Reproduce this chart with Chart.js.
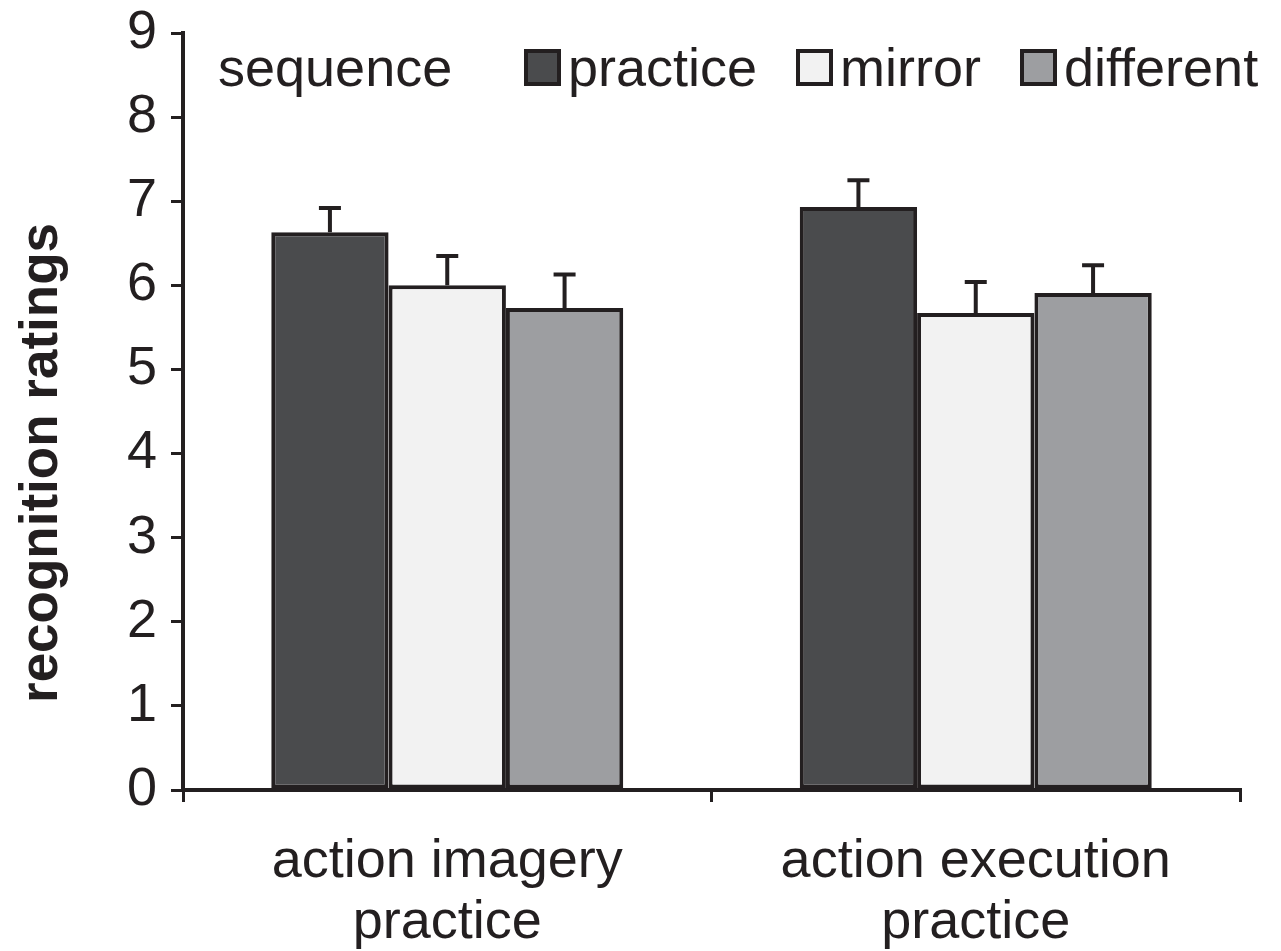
<!DOCTYPE html>
<html>
<head>
<meta charset="utf-8">
<script src="https://cdn.jsdelivr.net/npm/chart.js@4/dist/chart.umd.min.js"></script>
<style>
  html, body { margin: 0; padding: 0; background: #fff; }
  #wrap { width: 1281px; height: 951px; position: relative; }
</style>
</head>
<body>
<div id="wrap"><canvas id="c"></canvas></div>
<script>
// Данные
const categories = [['action imagery', 'practice'], ['action execution', 'practice']];
const seriesNames = ['practice', 'mirror', 'different'];
const practiceVals = [6.63, 6.93];
const mirrorVals = [6.00, 5.67];
const differentVals = [5.73, 5.91];
const practiceErr = [0.29, 0.32];
const mirrorErr = [0.35, 0.37];
const differentErr = [0.40, 0.33];
const yTicks = [0, 1, 2, 3, 4, 5, 6, 7, 8, 9];
const legendTitle = 'sequence';
const yTitle = 'recognition ratings';

const FONT = "'Liberation Sans', Arial, sans-serif";
const INK = '#231f20';
const fills = ['#4a4b4d', '#f2f2f2', '#9d9ea1'];

Chart.defaults.font.family = FONT;
Chart.defaults.color = INK;

// Планки погрешностей поверх столбцов
const errorBars = {
    id: 'errorBars',
    afterDatasetsDraw(chart) {
        const ctx = chart.ctx;
        const y = chart.scales.y;
        ctx.save();
        ctx.strokeStyle = INK;
        ctx.lineWidth = 4;
        chart.data.datasets.forEach((ds, i) => {
            const meta = chart.getDatasetMeta(i);
            meta.data.forEach((bar, j) => {
                const top = y.getPixelForValue(ds.data[j] + ds.errors[j]);
                ctx.beginPath();
                ctx.moveTo(bar.x, bar.y);
                ctx.lineTo(bar.x, top);
                ctx.moveTo(bar.x - 11, top);
                ctx.lineTo(bar.x + 11, top);
                ctx.stroke();
            });
        });
        ctx.restore();
    },
};

// Легенда в одну строку внутри области графика + подпись оси Y
const inlineLegend = {
    id: 'inlineLegend',
    afterDraw(chart) {
        const ctx = chart.ctx;
        const area = chart.chartArea;
        const baseY = area.top + 53;
        ctx.save();
        ctx.font = '54px ' + FONT;
        ctx.fillStyle = INK;
        ctx.textBaseline = 'alphabetic';
        ctx.fillText(legendTitle, area.left + 35, baseY);
        const starts = [524, 796, 1020];
        chart.data.datasets.forEach((ds, i) => {
            const x = starts[i];
            ctx.fillStyle = ds.backgroundColor;
            ctx.fillRect(x, baseY - 37, 37, 37);
            ctx.lineWidth = 4;
            ctx.strokeStyle = INK;
            ctx.strokeRect(x + 2, baseY - 35, 33, 33);
            ctx.fillStyle = INK;
            ctx.fillText(ds.label, x + 44, baseY);
        });

        // подпись оси Y (в оригинале смещена ниже центра)
        ctx.translate(42, 463);
        ctx.rotate(-Math.PI / 2);
        ctx.font = 'bold 53px ' + FONT;
        ctx.textAlign = 'center';
        ctx.textBaseline = 'middle';
        ctx.fillStyle = INK;
        ctx.fillText(yTitle, 0, 0);
        ctx.restore();
    },
};

const mk = (label, data, errors, color) => ({
    label, data, errors,
    backgroundColor: color,
    borderColor: INK,
    borderWidth: 4,
    borderSkipped: false,
    categoryPercentage: 0.666,
    barPercentage: 1.0,
});

new Chart(document.getElementById('c'), {
    type: 'bar',
    data: {
        labels: categories,
        datasets: [
            mk(seriesNames[0], practiceVals, practiceErr, fills[0]),
            mk(seriesNames[1], mirrorVals, mirrorErr, fills[1]),
            mk(seriesNames[2], differentVals, differentErr, fills[2]),
        ],
    },
    options: {
        responsive: true,
        maintainAspectRatio: false,
        animation: false,
        layout: { padding: { top: 33, right: 41, left: 0, bottom: 0 } },
        plugins: {
            legend: { display: false },
            tooltip: { enabled: false },
        },
        scales: {
            x: {
                grid: {
                    display: true,
                    offset: true,
                    drawOnChartArea: false,
                    drawTicks: true,
                    tickLength: 12,
                    color: INK,
                    lineWidth: 3,
                },
                border: { display: true, color: INK, width: 4 },
                ticks: {
                    color: INK,
                    font: { size: 54, family: FONT, lineHeight: 1.13 },
                    padding: 30,
                    maxRotation: 0,
                },
                afterFit: (s) => {
                    s.height = 951 - 790;
                    s.paddingLeft = 0;
                    s.paddingRight = 0;
                },
            },
            y: {
                min: 0,
                max: 9,
                afterBuildTicks: (s) => { s.ticks = yTicks.map((v) => ({ value: v })); },
                grid: {
                    display: true,
                    drawOnChartArea: false,
                    drawTicks: true,
                    tickLength: 12,
                    color: INK,
                    lineWidth: 3,
                },
                border: { display: true, color: INK, width: 4 },
                ticks: {
                    color: INK,
                    font: { size: 54, family: FONT },
                    padding: 14,
                },
                title: { display: false },
                afterFit: (s) => {
                    s.width = 183;
                    s.paddingTop = 0;
                    s.paddingBottom = 0;
                },
            },
        },
    },
    plugins: [errorBars, inlineLegend],
});
</script>
</body>
</html>
